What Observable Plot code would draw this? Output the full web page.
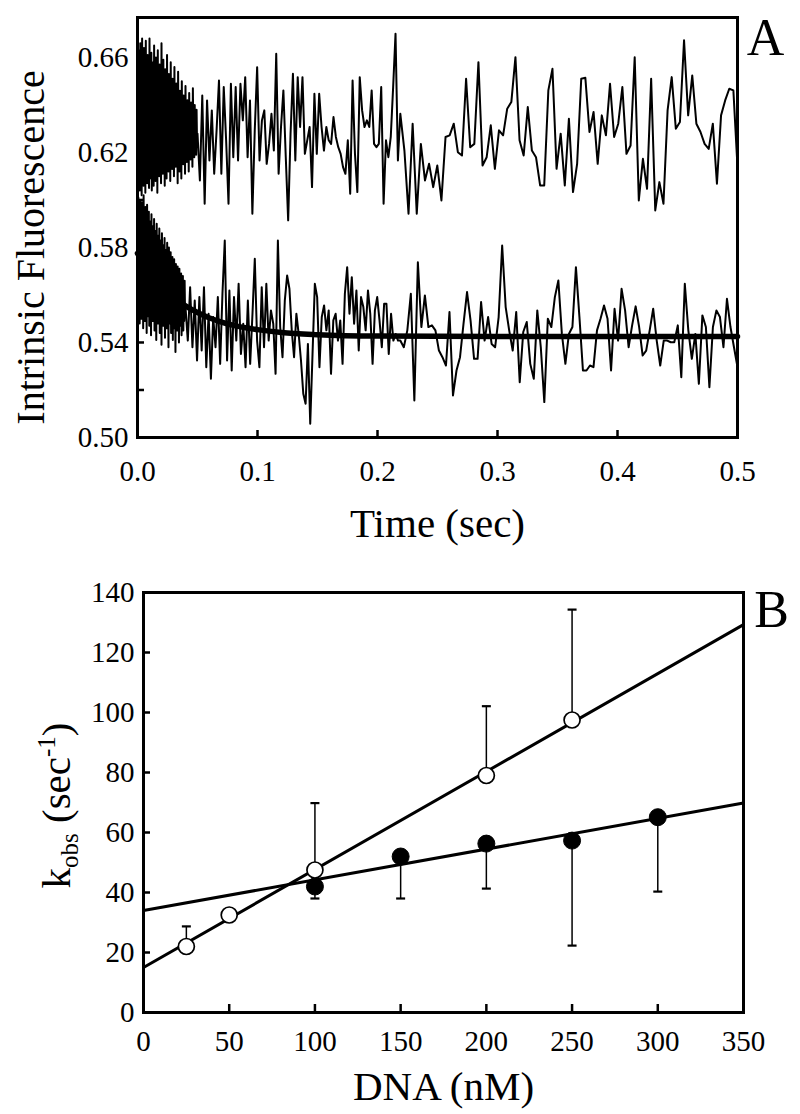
<!DOCTYPE html>
<html><head><meta charset="utf-8">
<script src="https://cdn.jsdelivr.net/npm/d3@7"></script>
<script src="https://cdn.jsdelivr.net/npm/@observablehq/plot@0.6"></script>
<style>
body{margin:0;background:#fff;}
#chart{width:800px;height:1114px;position:relative;overflow:hidden;background:#fff;}
#chart svg{display:block;}
</style></head><body><div id="chart"></div>
<script>
// ---------- Panel A: stopped-flow traces ----------
const upperBreaks = [0, 0.05, 0.219, 0.5];
const upperEarly = [0.648,0.608,0.663,0.615,0.656,0.604,0.666,0.611,0.652,0.602,
0.668,0.618,0.659,0.606,0.664,0.613,0.650,0.603,0.667,0.620,
0.657,0.607,0.661,0.612,0.654,0.605,0.668,0.616,0.649,0.609,
0.662,0.604,0.658,0.619,0.653,0.606,0.665,0.614,0.651,0.608,
0.660,0.617,0.655,0.603,0.663,0.612,0.648,0.610,0.657,0.621,
0.652,0.607,0.666,0.615,0.646,0.611,0.659,0.618,0.650,0.606,
0.655,0.620,0.644,0.609,0.661,0.616,0.649,0.612,0.653,0.622,
0.645,0.608,0.658,0.619,0.642,0.613,0.651,0.624,0.647,0.610,
0.656,0.618,0.640,0.614,0.649,0.623,0.643,0.607,0.654,0.620,
0.639,0.612,0.646,0.625,0.641,0.609,0.650,0.621,0.637,0.615,
0.644,0.626,0.638,0.611,0.648,0.622,0.636,0.616,0.642,0.627,
0.635,0.612,0.645,0.620,0.633,0.617,0.641,0.628,0.634,0.614,
0.647,0.623,0.631,0.618,0.640,0.626,0.633,0.619,0.638,0.624];
const upperMid = [0.6279,0.6082,0.6440,0.5984,0.6419,0.6166,0.6377,0.6110,0.6293,0.6503,0.6110,0.6475,0.6251,0.5984,0.6489,0.6180,0.6475,0.6166,0.6489,0.6335,0.6517,0.6180,0.6419,0.5942,0.6293,0.6559,0.6166,0.6335,0.6377,0.6152,0.6236,0.6363,0.6208,0.6615,0.6110,0.6307,0.6461,0.6180,0.5914,0.6279,0.6531,0.6166,0.6517,0.6307,0.6517,0.6194,0.6251,0.6307,0.6054,0.6447,0.6194,0.6447,0.6307,0.6208,0.6307,0.6251,0.6236,0.6349,0.6265,0.6222,0.6194,0.6138,0.6110,0.6251,0.6026,0.6503,0.6194,0.6033,0.6517,0.6377,0.6307,0.6335,0.6307,0.6461,0.6236,0.6222,0.6236,0.6475,0.5984,0.6251,0.6180,0.6265,0.6475,0.6700,0.6166];
const upperLate = [0.6363,0.6208,0.5942,0.6321,0.5942,0.6236,0.6082,0.6152,0.6054,0.6145,0.5998,0.6265,0.6272,0.6321,0.6201,0.6187,0.6510,0.6222,0.6236,0.6580,0.6145,0.6180,0.6314,0.6131,0.6293,0.6272,0.6384,0.6412,0.6601,0.6251,0.6187,0.6391,0.6208,0.6180,0.6061,0.6061,0.6461,0.6552,0.6131,0.6279,0.6061,0.6342,0.6033,0.6152,0.6510,0.6514,0.6286,0.6370,0.6152,0.6356,0.6272,0.6489,0.6265,0.6321,0.6475,0.6194,0.6229,0.6601,0.5998,0.6173,0.6047,0.6510,0.5956,0.6075,0.5984,0.6377,0.6517,0.6300,0.6328,0.6672,0.6356,0.6524,0.6321,0.6286,0.6236,0.6215,0.6321,0.6068,0.6356,0.6419,0.6468,0.6461,0.6138];

const lowerBreaks = [0, 0.04, 0.219, 0.5];
const lowerEarly = [0.598,0.552,0.601,0.558,0.595,0.548,0.600,0.561,0.593,0.550,
0.599,0.555,0.596,0.546,0.602,0.563,0.590,0.549,0.597,0.557,
0.592,0.544,0.598,0.560,0.588,0.551,0.595,0.547,0.591,0.562,
0.586,0.543,0.594,0.556,0.589,0.549,0.584,0.559,0.592,0.545,
0.587,0.553,0.582,0.541,0.590,0.557,0.585,0.548,0.580,0.560,
0.588,0.544,0.583,0.554,0.578,0.539,0.586,0.558,0.581,0.547,
0.577,0.552,0.584,0.542,0.579,0.556,0.575,0.546,0.582,0.553,
0.574,0.538,0.580,0.555,0.572,0.548,0.578,0.544,0.571,0.557,
0.576,0.541,0.570,0.552,0.575,0.546,0.568,0.536,0.573,0.554,
0.567,0.545,0.572,0.550,0.566,0.540,0.571,0.553,0.564,0.547,
0.569,0.543,0.563,0.551,0.568,0.545,0.561,0.549,0.566,0.552];
const lowerMid = [0.5549,0.5408,0.5633,0.5380,0.5577,0.5324,0.5591,0.5366,0.5633,0.5296,0.5521,0.5247,0.5507,0.5380,0.5591,0.5310,0.5605,0.5829,0.5324,0.5619,0.5282,0.5591,0.5408,0.5647,0.5352,0.5479,0.5296,0.5577,0.5310,0.5521,0.5752,0.5408,0.5296,0.5633,0.5380,0.5647,0.5408,0.5535,0.5479,0.5268,0.5829,0.5465,0.5338,0.5577,0.5682,0.5626,0.5451,0.5338,0.5521,0.5436,0.5324,0.5184,0.5142,0.5394,0.5058,0.5352,0.5647,0.5591,0.5296,0.5507,0.5556,0.5451,0.5535,0.5268,0.5493,0.5521,0.5408,0.5493,0.5310,0.5605,0.5717,0.5521,0.5675,0.5479,0.5619,0.5366,0.5591,0.5549,0.5451,0.5619,0.5521,0.5310,0.5535,0.5591,0.5493,0.5380,0.5563,0.5563,0.5352,0.5521,0.5408,0.5436,0.5408];
const lowerLate = [0.5408,0.5380,0.5451,0.5605,0.5156,0.5738,0.5465,0.5598,0.5465,0.5472,0.5451,0.5366,0.5338,0.5303,0.5528,0.5177,0.5282,0.5338,0.5479,0.5612,0.5493,0.5331,0.5331,0.5570,0.5408,0.5507,0.5394,0.5380,0.5507,0.5808,0.5549,0.5451,0.5366,0.5528,0.5233,0.5444,0.5486,0.5310,0.5247,0.5535,0.5380,0.5149,0.5500,0.5465,0.5591,0.5661,0.5436,0.5310,0.5436,0.5465,0.5717,0.5507,0.5282,0.5282,0.5303,0.5296,0.5451,0.5500,0.5556,0.5500,0.5282,0.5542,0.5408,0.5626,0.5535,0.5380,0.5472,0.5552,0.5465,0.5345,0.5366,0.5451,0.5542,0.5408,0.5303,0.5408,0.5408,0.5401,0.5401,0.5472,0.5254,0.5647,0.5451,0.5331,0.5436,0.5226,0.5514,0.5465,0.5212,0.5465,0.5535,0.5507,0.5380,0.5584,0.5465,0.5380,0.5296];

const fitTimes  = [0, 0.01, 0.02, 0.03, 0.04, 0.05, 0.06, 0.07, 0.08, 0.09, 0.10, 0.12, 0.15, 0.20, 0.30, 0.50];
const fitValues = [0.5775, 0.5700, 0.5636, 0.5590, 0.5554, 0.5526, 0.5503, 0.5486, 0.5472, 0.5462, 0.5454, 0.5442, 0.5433, 0.5427, 0.5425, 0.5425];

const yTicksA = [0.52, 0.54, 0.56, 0.58, 0.60, 0.62, 0.64, 0.66];
const yLabelsA = [0.50, 0.54, 0.58, 0.62, 0.66];
const xTicksA = [0.1, 0.2, 0.3, 0.4];
const xLabelsA = [0.0, 0.1, 0.2, 0.3, 0.4, 0.5];

// ---------- Panel B: kobs vs DNA ----------
const dnaOpen = [25, 50, 100, 200, 250];
const kOpen = [22, 32.5, 47.5, 79, 97.5];
const errOpenTop = [28.7, null, 69.8, 102.1, 134.3];
const dnaFilled = [100, 150, 200, 250, 300];
const kFilled = [42, 52, 56.3, 57.3, 65.1];
const errFilledBottom = [38, 38, 41.3, 22.3, 40.3];
const fitDNA = [0, 350];
const fitOpen = [15, 129.3];
const fitFilled = [34, 69.8];

const yTicksB = [20, 40, 60, 80, 100, 120];
const yLabelsB = [0, 20, 40, 60, 80, 100, 120, 140];
const xTicksB = [50, 100, 150, 200, 250, 300];
const xLabelsB = [0, 50, 100, 150, 200, 250, 300, 350];

// ---------- build tables ----------
function segments(parts, breaks) {
  const out = [];
  parts.forEach((vals, s) => {
    const t0 = breaks[s], t1 = breaks[s + 1], n = vals.length;
    const last = s === parts.length - 1;
    vals.forEach((v, i) => out.push({t: t0 + (t1 - t0) * i / (last ? n - 1 : n), v}));
  });
  return out;
}
const upper = segments([upperEarly, upperMid, upperLate], upperBreaks);
const lower = segments([lowerEarly, lowerMid, lowerLate], lowerBreaks);
const fit = fitTimes.map((t, i) => ({t, v: fitValues[i]}));

const openPts = dnaOpen.map((x, i) => ({x, y: kOpen[i], e: errOpenTop[i]}));
const filledPts = dnaFilled.map((x, i) => ({x, y: kFilled[i], e: errFilledBottom[i]}));
const openErr = openPts.filter(d => d.e != null);
const lineOpen = fitDNA.map((x, i) => ({x, y: fitOpen[i]}));
const lineFilled = fitDNA.map((x, i) => ({x, y: fitFilled[i]}));

const FONT = "'Liberation Serif', 'Times New Roman', Times, serif";
const baseStyle = {fontFamily: FONT, fontSize: "29px", color: "black", background: "white", overflow: "visible"};
const capSymbol = {draw(ctx, size) { const r = Math.sqrt(size / Math.PI); ctx.moveTo(-r, 0); ctx.lineTo(r, 0); }};

const plotA = Plot.plot({
  width: 800, height: 560,
  marginLeft: 137, marginRight: 63, marginTop: 17, marginBottom: 123,
  x: {domain: [0, 0.5]},
  y: {domain: [0.5, 0.6768]},
  style: baseStyle,
  marks: [
    Plot.line(upper, {x: "t", y: "v", stroke: "black", strokeWidth: 2}),
    Plot.line(lower, {x: "t", y: "v", stroke: "black", strokeWidth: 2}),
    Plot.line(fit, {x: "t", y: "v", stroke: "black", strokeWidth: 5.5, curve: "monotone-x"}),
    Plot.tickY(yTicksA, {y: d => d, insetRight: 593, stroke: "black", strokeWidth: 2.5}),
    Plot.tickX(xTicksA, {x: d => d, insetTop: 413, stroke: "black", strokeWidth: 2.5}),
    Plot.frame({stroke: "black", strokeWidth: 3}),
    Plot.axisY(yLabelsA, {tickSize: 0, tickPadding: 9, tickFormat: d3.format(".2f"), label: null, fontSize: 29}),
    Plot.axisX(xLabelsA, {tickSize: 0, tickPadding: 23, tickFormat: d3.format(".1f"), label: null, fontSize: 29}),
    Plot.text(["Time (sec)"], {text: d => d, frameAnchor: "bottom", textAnchor: "middle", lineAnchor: "middle", dy: 86, fontSize: 41}),
    Plot.text(["Intrinsic Fluorescence"], {text: d => d, frameAnchor: "left", textAnchor: "middle", lineAnchor: "middle", rotate: -90, dx: -106, dy: 20, fontSize: 40}),
    Plot.text(["A"], {text: d => d, frameAnchor: "top-right", textAnchor: "middle", lineAnchor: "middle", dx: 28, dy: 21, fontSize: 52})
  ]
});

const plotB = Plot.plot({
  width: 800, height: 554,
  marginLeft: 143, marginRight: 57, marginTop: 32, marginBottom: 102,
  x: {domain: [0, 350]},
  y: {domain: [0, 140]},
  style: baseStyle,
  marks: [
    Plot.line(lineOpen, {x: "x", y: "y", stroke: "black", strokeWidth: 3}),
    Plot.line(lineFilled, {x: "x", y: "y", stroke: "black", strokeWidth: 3}),
    Plot.ruleX(openErr, {x: "x", y1: "y", y2: "e", stroke: "black", strokeWidth: 1.5}),
    Plot.ruleX(filledPts, {x: "x", y1: "y", y2: "e", stroke: "black", strokeWidth: 1.5}),
    Plot.dot(openErr, {x: "x", y: "e", symbol: capSymbol, r: 4.5, stroke: "black", strokeWidth: 2.2, fill: "none"}),
    Plot.dot(filledPts, {x: "x", y: "e", symbol: capSymbol, r: 4.5, stroke: "black", strokeWidth: 2.2, fill: "none"}),
    Plot.dot(filledPts, {x: "x", y: "y", r: 8.5, fill: "black", stroke: "black", strokeWidth: 1}),
    Plot.dot(openPts, {x: "x", y: "y", r: 8, fill: "white", stroke: "black", strokeWidth: 1.7}),
    Plot.tickY(yTicksB, {y: d => d, insetRight: 593, stroke: "black", strokeWidth: 2.5}),
    Plot.tickX(xTicksB, {x: d => d, insetTop: 412, stroke: "black", strokeWidth: 2.5}),
    Plot.frame({stroke: "black", strokeWidth: 3}),
    Plot.axisY(yLabelsB, {tickSize: 0, tickPadding: 9, label: null, fontSize: 29}),
    Plot.axisX(xLabelsB, {tickSize: 0, tickPadding: 18, label: null, fontSize: 29}),
    Plot.text(["DNA (nM)"], {text: d => d, frameAnchor: "bottom", textAnchor: "middle", lineAnchor: "middle", dy: 74, fontSize: 41}),
    Plot.text(["KOBS_LABEL"], {text: d => d, frameAnchor: "left", textAnchor: "middle", lineAnchor: "middle", rotate: -90, dx: -87, dy: 3, fontSize: 41}),
    Plot.text(["B"], {text: d => d, frameAnchor: "top-right", textAnchor: "middle", lineAnchor: "middle", dx: 28, dy: 18, fontSize: 52})
  ]
});

// compose k_obs (sec^-1) with real sub/superscripts
d3.select(plotB).selectAll("text").filter(function () { return this.textContent === "KOBS_LABEL"; })
  .each(function () {
    const t = d3.select(this);
    t.text(null);
    t.append("tspan").text("k");
    t.append("tspan").attr("font-size", 25).attr("dy", 8).text("obs");
    t.append("tspan").attr("dy", -8).text("\u00a0(sec");
    t.append("tspan").attr("font-size", 25).attr("dy", -15).text("-1");
    t.append("tspan").attr("dy", 15).text(")");
  });

const chart = document.getElementById("chart");
chart.appendChild(plotA);
chart.appendChild(plotB);
</script></body></html>
